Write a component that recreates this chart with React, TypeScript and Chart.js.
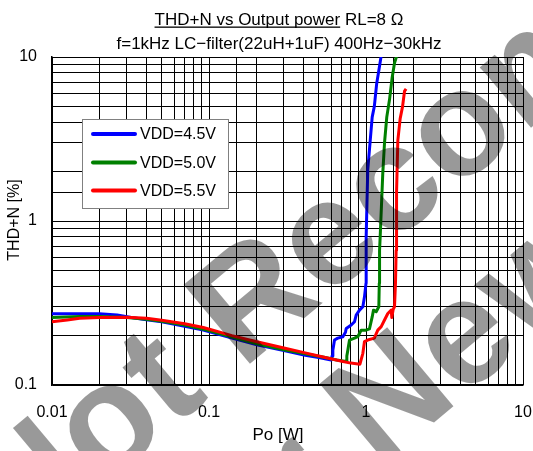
import React, { useEffect, useRef } from "react";
import { Chart, registerables } from "chart.js";

Chart.register(...registerables);

const seriesLabels = ["VDD=4.5V", "VDD=5.0V", "VDD=5.5V"];
const seriesColors = ["#0000ff", "#008000", "#ff0000"];

const blueX = [0.01, 0.015, 0.02, 0.026, 0.032, 0.04, 0.05, 0.07, 0.092, 0.14, 0.205, 0.3, 0.41, 0.5, 0.6, 0.608, 0.615, 0.63, 0.661, 0.712, 0.74, 0.748, 0.805, 0.845, 0.866, 0.909, 0.955, 0.978, 1.0, 1.0, 1.005, 1.026, 1.064, 1.095, 1.13, 1.17, 1.22, 1.25];
const blueY = [0.272, 0.272, 0.272, 0.267, 0.258, 0.25, 0.243, 0.228, 0.216, 0.193, 0.175, 0.162, 0.152, 0.147, 0.142, 0.15, 0.163, 0.188, 0.193, 0.197, 0.21, 0.221, 0.232, 0.243, 0.267, 0.286, 0.3, 0.345, 0.417, 0.66, 0.8, 2.05, 3.1, 4.3, 5.0, 6.9, 8.8, 10.2];

const greenX = [0.01, 0.015, 0.02, 0.03, 0.04, 0.05, 0.07, 0.092, 0.14, 0.205, 0.3, 0.41, 0.55, 0.65, 0.748, 0.755, 0.766, 0.785, 0.845, 0.887, 0.931, 1.0, 1.052, 1.095, 1.116, 1.161, 1.207, 1.215, 1.22, 1.231, 1.279, 1.312, 1.356, 1.412, 1.468, 1.519, 1.571];
const greenY = [0.258, 0.262, 0.262, 0.258, 0.252, 0.245, 0.232, 0.219, 0.196, 0.178, 0.164, 0.155, 0.147, 0.142, 0.139, 0.15, 0.163, 0.188, 0.193, 0.197, 0.216, 0.216, 0.22, 0.26, 0.286, 0.28, 0.3, 0.417, 0.66, 0.8, 1.95, 3.0, 4.3, 5.5, 7.5, 9.2, 10.2];

const redX = [0.01, 0.0125, 0.015, 0.02, 0.03, 0.04, 0.05, 0.07, 0.092, 0.14, 0.205, 0.3, 0.41, 0.55, 0.714, 0.8, 0.915, 0.955, 0.978, 1.026, 1.13, 1.189, 1.25, 1.312, 1.377, 1.448, 1.46, 1.49, 1.519, 1.541, 1.556, 1.56, 1.571, 1.595, 1.65, 1.71, 1.76, 1.8];
const redY = [0.243, 0.249, 0.255, 0.258, 0.259, 0.255, 0.248, 0.236, 0.224, 0.2, 0.183, 0.168, 0.157, 0.147, 0.139, 0.136, 0.134, 0.156, 0.184, 0.188, 0.193, 0.216, 0.227, 0.249, 0.273, 0.286, 0.258, 0.29, 0.3, 0.417, 0.66, 0.8, 1.5, 3.1, 4.2, 5.0, 6.2, 6.4];

const xTickLabels = ["0.01", "0.1", "1", "10"];
const yTickLabels = ["0.1", "1", "10"];

const titleLine1Underlined = "THD+N vs Output power";
const titleLine1Rest = " RL=8 Ω";
const titleLine2 = "f=1kHz LC−filter(22uH+1uF) 400Hz−30kHz";
const xAxisTitle = "Po [W]";
const yAxisTitle = "THD+N [%]";
const watermarkLine1 = "Not Recommended";
const watermarkLine2 = "for New Design";

const FONT = '"Liberation Sans", Arial, sans-serif';

function pts(xs: number[], ys: number[]) {
  return xs.map((x, i) => ({ x, y: ys[i] }));
}

function labelFor(v: number, labels: string[]) {
  const found = labels.find((l) => Math.abs(parseFloat(l) - v) / v < 1e-6);
  return found ?? "";
}

const overlayPlugin = {
  id: "overlay",
  afterDraw(chart: any) {
    const ctx: CanvasRenderingContext2D = chart.ctx;
    ctx.save();
    ctx.fillStyle = "#000";
    // Titles
    ctx.font = `17px ${FONT}`;
    ctx.textAlign = "left";
    ctx.textBaseline = "alphabetic";
    const cx = 279;
    const full1 = titleLine1Underlined + titleLine1Rest;
    const w1 = ctx.measureText(full1).width;
    const x1 = cx - w1 / 2;
    ctx.fillText(full1, x1, 25);
    const wu = ctx.measureText(titleLine1Underlined).width;
    ctx.fillRect(x1, 26.5, wu, 1.3);
    const w2 = ctx.measureText(titleLine2).width;
    ctx.fillText(titleLine2, cx - w2 / 2, 49);

    // Axis titles
    ctx.font = `17px ${FONT}`;
    ctx.textAlign = "center";
    ctx.textBaseline = "middle";
    ctx.fillText(xAxisTitle, 278, 435);
    ctx.save();
    ctx.translate(15, 220);
    ctx.rotate(-Math.PI / 2);
    ctx.font = `16px ${FONT}`;
    ctx.fillText(yAxisTitle, 0, 0);
    ctx.restore();

    // Legend
    const lx = 82.5, ly = 119.5, lw = 146, lh = 89;
    ctx.fillStyle = "#fff";
    ctx.fillRect(lx, ly, lw, lh);
    ctx.strokeStyle = "#808080";
    ctx.lineWidth = 1;
    ctx.strokeRect(lx, ly, lw, lh);
    const rows = [134, 162.5, 190.5];
    ctx.font = `16px ${FONT}`;
    ctx.textAlign = "left";
    ctx.textBaseline = "middle";
    seriesLabels.forEach((lab, i) => {
      ctx.strokeStyle = seriesColors[i];
      ctx.lineWidth = 4;
      ctx.lineCap = "round";
      ctx.beginPath();
      ctx.moveTo(93, rows[i]);
      ctx.lineTo(135, rows[i]);
      ctx.stroke();
      ctx.fillStyle = "#000";
      ctx.fillText(lab, 140, rows[i] + 1);
    });

    // Watermark
    const size = 150;
    ctx.font = `bold ${size}px ${FONT}`;
    ctx.fillStyle = "rgba(0,0,0,0.4)";
    ctx.textAlign = "left";
    ctx.textBaseline = "alphabetic";
    const ang = (-40 * Math.PI) / 180;
    const drawLine = (text: string, idx: number, ax: number, ay: number) => {
      const pre = ctx.measureText(text.slice(0, idx)).width;
      const lw2 = ctx.measureText(text[idx]).width;
      const off = pre + lw2 / 2;
      ctx.save();
      ctx.translate(ax, ay);
      ctx.rotate(ang);
      ctx.fillText(text, -off, size * 0.26);
      ctx.restore();
    };
    drawLine(watermarkLine1, 5, 332, 244);
    drawLine(watermarkLine2, 5, 468, 343);

    ctx.restore();
  },
};

export default function App() {
  const ref = useRef<HTMLCanvasElement | null>(null);
  useEffect(() => {
    document.body.style.margin = "0";
    const canvas = ref.current;
    if (!canvas) return;
    const datasets = [
      { label: seriesLabels[0], data: pts(blueX, blueY), borderColor: seriesColors[0], order: 2 },
      { label: seriesLabels[1], data: pts(greenX, greenY), borderColor: seriesColors[1], order: 1 },
      { label: seriesLabels[2], data: pts(redX, redY), borderColor: seriesColors[2], order: 0 },
    ].map((d) => ({
      ...d,
      borderWidth: 3,
      pointRadius: 0,
      tension: 0,
      fill: false,
      borderJoinStyle: "round" as const,
    }));
    const chart = new Chart(canvas, {
      type: "line",
      data: { datasets },
      options: {
        responsive: false,
        animation: false,
        events: [],
        layout: { padding: { top: 57, right: 10, left: 0, bottom: 0 } },
        plugins: {
          legend: { display: false },
          title: { display: false },
          tooltip: { enabled: false },
        },
        scales: {
          x: {
            type: "logarithmic",
            min: 0.01,
            max: 10,
            grid: { color: "#000", lineWidth: 1, drawTicks: false },
            border: { color: "#000", width: 1.5 },
            ticks: {
              autoSkip: false,
              maxRotation: 0,
              padding: 18,
              color: "#000",
              font: { family: FONT, size: 16 },
              callback: (v: any) => labelFor(Number(v), xTickLabels),
            },
            afterFit: (s: any) => {
              s.height = 66;
              s.paddingLeft = 0;
              s.paddingRight = 0;
            },
          },
          y: {
            type: "logarithmic",
            min: 0.1,
            max: 10,
            grid: { color: "#000", lineWidth: 1, drawTicks: false },
            border: { color: "#000", width: 1.5 },
            ticks: {
              autoSkip: false,
              padding: 15,
              color: "#000",
              font: { family: FONT, size: 16 },
              callback: (v: any) => labelFor(Number(v), yTickLabels),
            },
            afterFit: (s: any) => {
              s.width = 52;
              s.paddingTop = 0;
              s.paddingBottom = 0;
            },
          },
        },
      },
      plugins: [overlayPlugin],
    });
    return () => chart.destroy();
  }, []);
  return (
    <div style={{ width: 533, height: 451 }}>
      <canvas ref={ref} width={533} height={451} style={{ display: "block" }} />
    </div>
  );
}
